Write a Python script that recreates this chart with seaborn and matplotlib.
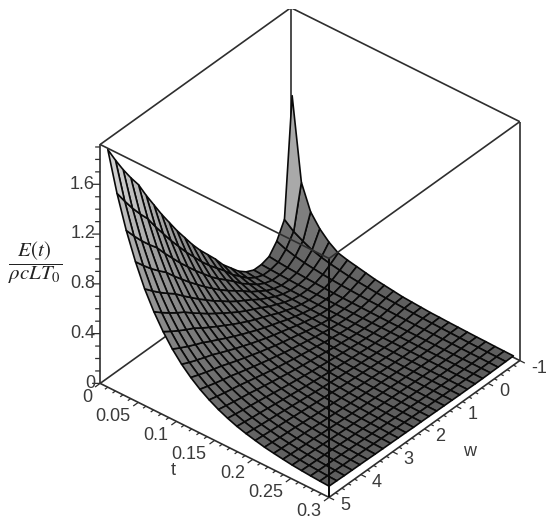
import numpy as np
import matplotlib
matplotlib.use("Agg")
import matplotlib.pyplot as plt
from mpl_toolkits.mplot3d import proj3d
import seaborn as sns

sns.set_theme(style="white")
plt.rcParams["font.family"] = ["Liberation Sans", "DejaVu Sans"]
plt.rcParams["mathtext.fontset"] = "stix"

w_grid = [-0.8, -0.558, -0.317, -0.075, 0.167, 0.408, 0.65, 0.892, 1.133, 1.375, 1.617, 1.858, 2.1,
          2.342, 2.583, 2.825, 3.067, 3.308, 3.55, 3.792, 4.033, 4.275, 4.517, 4.758, 5.0]
t_grid = [0.01, 0.0221, 0.0342, 0.0463, 0.0583, 0.0704, 0.0825, 0.0946, 0.1067, 0.1188, 0.1308, 0.1429, 0.155,
          0.1671, 0.1792, 0.1913, 0.2033, 0.2154, 0.2275, 0.2396, 0.2517, 0.2638, 0.2758, 0.2879, 0.3]

e00 = [1.28,.62,.42,.32,.25,.20,.18,.165,.15,.135,.125,.115,.105,.10,.095,.09,.088,.085,.083,.081,.079,.078,.076,.075,.074]
e01 = [.33,.27,.23,.195,.172,.155,.142,.13,.122,.115,.108,.103,.099,.095,.091,.088,.085,.083,.081,.079,.077,.076,.075,.074,.073]
e02 = [.20,.17,.15,.135,.125,.115,.108,.102,.098,.094,.09,.088,.085,.083,.081,.079,.078,.077,.076,.075,.074,.073,.073,.072,.072]
e03 = [.12,.111,.104,.099,.094,.090,.086,.083,.081,.079,.078,.076,.075,.074,.074,.073,.073,.072,.072,.071,.071,.071,.071,.071,.071]
e04 = [.10,.095,.091,.087,.084,.082,.080,.078,.077,.076,.075,.074,.073,.073,.072,.072,.072,.071,.071,.071,.071,.071,.070,.070,.070]
e05 = [.10,.095,.091,.087,.084,.082,.080,.078,.077,.076,.075,.074,.073,.073,.072,.072,.072,.071,.071,.071,.071,.071,.070,.070,.070]
e06 = [.13,.120,.111,.104,.098,.094,.090,.086,.083,.081,.079,.078,.076,.075,.074,.074,.073,.072,.072,.072,.071,.071,.071,.071,.071]
e07 = [.18,.161,.146,.133,.122,.113,.106,.100,.095,.090,.087,.084,.082,.080,.078,.077,.076,.075,.074,.073,.073,.072,.072,.071,.071]
e08 = [.25,.219,.194,.173,.155,.141,.129,.118,.110,.103,.098,.093,.089,.086,.083,.081,.079,.077,.076,.075,.074,.073,.073,.072,.072]
e09 = [.32,.277,.242,.213,.188,.168,.151,.137,.126,.116,.108,.102,.096,.092,.088,.085,.083,.080,.079,.077,.076,.075,.074,.073,.073]
e10 = [.41,.352,.304,.264,.230,.203,.181,.161,.146,.133,.122,.113,.106,.100,.094,.090,.087,.084,.082,.080,.078,.076,.075,.074,.074]
e11 = [.49,.418,.359,.309,.268,.235,.207,.183,.164,.148,.134,.123,.114,.107,.100,.095,.091,.087,.084,.082,.080,.078,.077,.075,.075]
e12 = [.57,.485,.414,.355,.306,.266,.233,.205,.182,.163,.147,.134,.123,.114,.106,.100,.095,.091,.087,.084,.082,.080,.078,.077,.076]
e13 = [.66,.559,.475,.406,.348,.301,.262,.229,.202,.179,.160,.145,.132,.121,.112,.105,.100,.094,.090,.087,.084,.081,.079,.078,.076]
e14 = [.76,.642,.544,.463,.396,.340,.294,.256,.224,.198,.176,.158,.142,.130,.120,.111,.105,.098,.093,.089,.086,.083,.081,.079,.078]
e15 = [.86,.725,.613,.520,.443,.380,.327,.283,.246,.216,.191,.170,.153,.139,.127,.117,.110,.102,.097,.092,.088,.085,.083,.080,.079]
e16 = [.97,.816,.688,.583,.495,.423,.363,.312,.271,.237,.208,.184,.165,.148,.135,.124,.115,.107,.101,.095,.091,.087,.084,.082,.080]
e17 = [1.08,.907,.764,.646,.547,.466,.398,.342,.295,.257,.225,.198,.176,.158,.143,.131,.121,.111,.104,.098,.093,.089,.086,.083,.081]
e18 = [1.20,1.007,.846,.714,.603,.513,.437,.374,.322,.279,.243,.214,.189,.168,.151,.138,.127,.116,.108,.102,.096,.091,.088,.085,.082]
e19 = [1.32,1.106,.929,.783,.660,.560,.476,.406,.349,.301,.261,.229,.201,.179,.160,.145,.133,.121,.113,.105,.099,.094,.090,.086,.084]
e20 = [1.45,1.214,1.018,.857,.721,.611,.519,.441,.378,.325,.281,.245,.215,.190,.169,.153,.139,.127,.117,.109,.102,.096,.092,.088,.085]
e21 = [1.55,1.297,1.087,.914,.769,.650,.551,.468,.400,.344,.296,.258,.225,.199,.177,.159,.144,.131,.120,.111,.104,.098,.094,.089,.086]
e22 = [1.66,1.388,1.162,.976,.820,.693,.587,.498,.425,.364,.313,.272,.237,.208,.184,.165,.150,.135,.124,.115,.107,.100,.095,.091,.087]
e23 = [1.78,1.488,1.245,1.045,.877,.740,.626,.530,.451,.386,.332,.287,.250,.219,.193,.173,.156,.140,.128,.118,.109,.102,.097,.092,.089]
e24 = [1.91,1.595,1.334,1.119,.938,.791,.668,.565,.480,.410,.352,.304,.263,.230,.202,.180,.162,.145,.133,.122,.112,.105,.099,.094,.090]

z_ticks = [0, 0.4, 0.8, 1.2, 1.6]
z_tick_labels = ["0", "0.4", "0.8", "1.2", "1.6"]
t_ticks = [0, 0.05, 0.1, 0.15, 0.2, 0.25, 0.3]
t_tick_labels = ["0", "0.05", "0.1", "0.15", "0.2", "0.25", "0.3"]
w_ticks = [-1, 0, 1, 2, 3, 4, 5]
w_tick_labels = ["-1", "0", "1", "2", "3", "4", "5"]
w_lo, w_hi, t_lo, t_hi, z_lo, z_hi = -1, 5, 0, 0.3, 0, 1.92

Z = np.array([e00, e01, e02, e03, e04, e05, e06, e07, e08, e09, e10, e11, e12,
              e13, e14, e15, e16, e17, e18, e19, e20, e21, e22, e23, e24])
W, T = np.meshgrid(w_grid, t_grid, indexing="ij")

fig = plt.figure(figsize=(5.5, 5.19), dpi=100)
ax = fig.add_axes([52.7 / 550, 9.2 / 519, 501 / 550, 501 / 519], projection="3d", computed_zorder=False)
ax.set_proj_type("ortho")
ax.set_box_aspect((1, 1, 1))
ax.view_init(elev=36.7, azim=39.8)
ax.set_axis_off()

cmap = sns.blend_palette(["#595959", "#cfcfcf"], as_cmap=True)
padded = np.pad(Z, ((0, 1), (0, 1)), mode="edge")
cell_top = np.maximum.reduce([padded[:-1, :-1], padded[1:, :-1], padded[:-1, 1:], padded[1:, 1:]])
ax.plot_surface(W, T, Z, facecolors=cmap(cell_top / 1.9), rcount=25, ccount=25,
                edgecolor="#0a0a0a", linewidth=1.2, shade=False, antialiased=True, zorder=2)

ink = "#2e2e2e"
def seg(p, q, zorder=3, lw=1.2, color=ink):
    ax.plot([p[0], q[0]], [p[1], q[1]], [p[2], q[2]], color=color, lw=lw, zorder=zorder, solid_capstyle="butt")

# hidden (behind the surface)
seg((w_lo, t_lo, z_lo), (w_lo, t_lo, z_hi), 1)
seg((w_lo, t_lo, z_lo), (w_hi, t_lo, z_lo), 1)
seg((w_lo, t_lo, z_lo), (w_lo, t_hi, z_lo), 1)
# in front
seg((w_hi, t_lo, z_lo), (w_hi, t_hi, z_lo))
seg((w_hi, t_hi, z_lo), (w_lo, t_hi, z_lo))
seg((w_hi, t_lo, z_lo), (w_hi, t_lo, z_hi))
seg((w_hi, t_hi, z_lo), (w_hi, t_hi, z_hi), color="#0a0a0a", lw=1.4)
seg((w_lo, t_hi, z_lo), (w_lo, t_hi, z_hi))
seg((w_hi, t_lo, z_hi), (w_lo, t_lo, z_hi))
seg((w_lo, t_lo, z_hi), (w_lo, t_hi, z_hi))
seg((w_lo, t_hi, z_hi), (w_hi, t_hi, z_hi))
seg((w_hi, t_lo, z_hi), (w_hi, t_hi, z_hi))

# tick marks
for i in range(0, 31):
    v = i * 0.01
    d = 0.16 if i % 5 == 0 else 0.09
    seg((w_hi, v, 0), (w_hi + d, v, 0), lw=0.9)
for i in range(0, 31):
    v = -1 + i * 0.2
    d = 0.0066 if i % 5 == 0 else 0.0038
    seg((v, t_hi, 0), (v, t_hi + d, 0), lw=0.9)
for i in range(0, 20):
    v = i * 0.1
    d = 1.6 if i % 4 == 0 else 1.0
    seg((w_hi, t_lo, v), (w_hi + 0.0644 * d, t_lo - 0.00387 * d, v), lw=0.9)

ax.set_xlim(w_lo, w_hi)
ax.set_ylim(t_lo, t_hi)
ax.set_zlim(z_lo, z_hi)
ax.set_xticks([])
ax.set_yticks([])
ax.set_zticks([])

tc = "#3a3a3a"
fs = 13
M = ax.get_proj()
def label(w, t, z, s, ha):
    px, py, _ = proj3d.proj_transform(w, t, z, M)
    ax.text2D(px, py, s, transform=ax.transData, ha=ha, va="center", fontsize=fs, color=tc, zorder=5)

for v, s in zip(z_ticks, z_tick_labels):
    label(w_hi + 0.16, t_lo, v + 0.03, s, "right")
for v, s in zip(t_ticks, t_tick_labels):
    label(w_hi + 0.32, v + 0.003, -0.045, s, "right")
for v, s in zip(w_ticks, w_tick_labels):
    label(v, t_hi + 0.0144, -0.02, s, "left")
label(6.3, 0.15, 0, "t", "center")
label(2, 0.359, 0, "w", "center")

fig.text(35 / 550, 1 - 263 / 519, r"$\dfrac{E(t)}{\rho c L T_0}$", ha="center", va="center", fontsize=15, color="#222222")

fig.savefig("out.png", dpi=100, facecolor="white")
